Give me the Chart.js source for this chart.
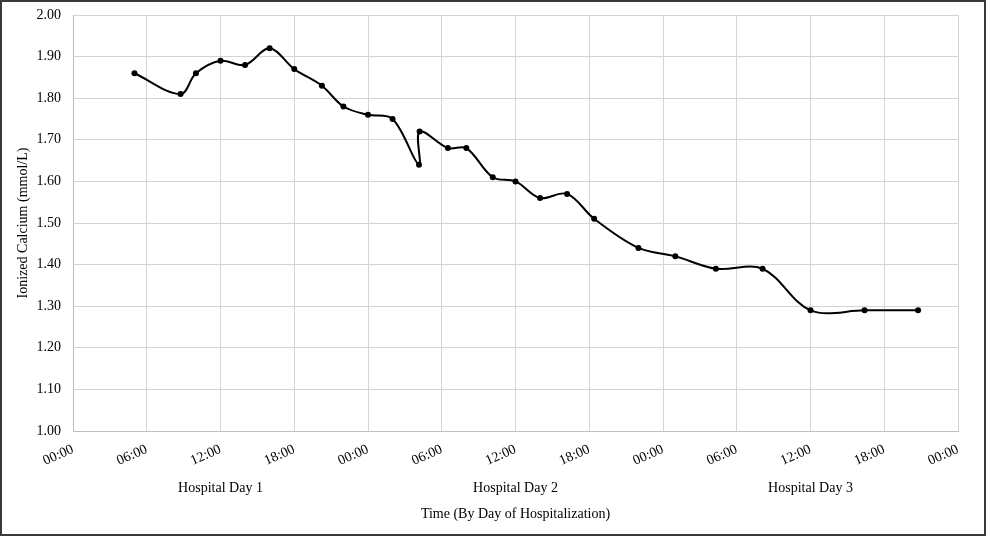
<!DOCTYPE html>
<html>
<head>
<meta charset="utf-8">
<script src="https://cdn.jsdelivr.net/npm/chart.js@4"></script>
<style>
  body { margin: 0; background: #fff; }
  #wrap { width: 986px; height: 536px; box-sizing: border-box; border: 2px solid #3a3a3a; background: #fff; }
  canvas { display: block; }
</style>
</head>
<body>
<div id="wrap"><canvas id="grafico" width="982" height="532"></canvas></div>
<script>
// hours since admission (00:00 of hospital day 1)
var horas = [5, 8.75, 10, 12, 14, 16, 18, 20.25, 22, 24, 26, 28.15, 28.2, 30.5, 32, 34.15, 36, 38, 40.2, 42.4, 46, 49, 52.3, 56.1, 60, 64.4, 68.75]
var calcio = [1.86, 1.81, 1.86, 1.89, 1.88, 1.92, 1.87, 1.83, 1.78, 1.76, 1.75, 1.64, 1.72, 1.68, 1.68, 1.61, 1.60, 1.56, 1.57, 1.51, 1.44, 1.42, 1.39, 1.39, 1.29, 1.29, 1.29]
var diasLabel = ['Hospital Day 1', 'Hospital Day 2', 'Hospital Day 3']
var diasCentro = [12, 36, 60]

var fonte = { family: 'Liberation Serif', size: 14 }
var corGrade = '#d4d4d4'

var pontos = []
for (var i = 0; i < horas.length; i++) {
    pontos.push({ x: horas[i], y: calcio[i] })
}

function horaLabel(v) {
    var h = v % 24
    return (h < 10 ? '0' : '') + h + ':00'
}

const ctx = document.getElementById('grafico')

new Chart(ctx, {
    type: 'line',
    data: {
        datasets: [{
            data: pontos,
            borderColor: '#000',
            backgroundColor: '#000',
            borderWidth: 2,
            pointRadius: 3,
            pointBackgroundColor: '#000',
            pointBorderWidth: 0,
            tension: 0.35,
            xAxisID: 'x'
        }]
    },
    options: {
        responsive: false,
        devicePixelRatio: 1,
        animation: false,
        layout: { padding: { top: 13, right: 26, bottom: 0, left: 0 } },
        plugins: { legend: { display: false }, tooltip: { enabled: false } },
        scales: {
            x: {
                type: 'linear',
                position: 'bottom',
                min: 0,
                max: 72,
                grid: { color: corGrade, drawTicks: false },
                border: { color: '#bfbfbf' },
                ticks: {
                    stepSize: 6,
                    autoSkip: false,
                    minRotation: 24,
                    maxRotation: 24,
                    padding: 10,
                    color: '#000',
                    font: fonte,
                    callback: function (v) { return horaLabel(v) }
                },
                afterFit: function (s) { s.height = 45 }
            },
            dias: {
                type: 'linear',
                position: 'bottom',
                min: 0,
                max: 72,
                grid: { display: false, drawTicks: false },
                border: { display: false },
                ticks: {
                    padding: 4,
                    color: '#000',
                    font: fonte,
                    maxRotation: 0,
                    autoSkip: false,
                    callback: function (v) {
                        var k = diasCentro.indexOf(v)
                        return k >= 0 ? diasLabel[k] : ''
                    }
                },
                afterBuildTicks: function (s) {
                    s.ticks = diasCentro.map(function (v) { return { value: v } })
                },
                title: {
                    display: true,
                    text: 'Time (By Day of Hospitalization)',
                    color: '#000',
                    font: fonte,
                    padding: { top: 0, bottom: 11 }
                },
                afterFit: function (s) { s.height = 58 }
            },
            y: {
                min: 1,
                max: 2,
                grid: { color: corGrade, drawTicks: false },
                border: { color: '#bfbfbf' },
                ticks: {
                    stepSize: 0.1,
                    padding: 12,
                    color: '#000',
                    font: fonte,
                    callback: function (v) { return Number(v).toFixed(2) }
                },
                title: {
                    display: true,
                    text: 'Ionized Calcium (mmol/L)',
                    color: '#000',
                    font: fonte,
                    padding: { top: 13, bottom: 0 }
                },
                afterFit: function (s) {
                    s.width = 71
                    s.paddingTop = 0
                    s.paddingBottom = 0
                }
            }
        }
    }
})
</script>
</body>
</html>
